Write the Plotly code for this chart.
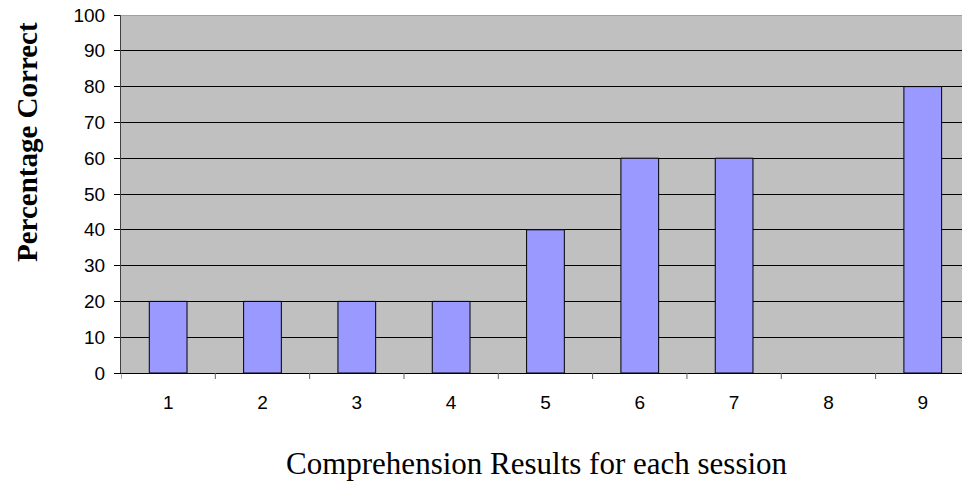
import plotly.graph_objects as go

# Comprehension score (% correct) for each session; session 8 has no result
sessions = ["1", "2", "3", "4", "5", "6", "7", "8", "9"]
percent_correct = [20, 20, 20, 20, 40, 60, 60, None, 80]
y_ticks = [0, 10, 20, 30, 40, 50, 60, 70, 80, 90, 100]

W, H = 962, 482
left, top, bottom = 121, 15, 109

fig = go.Figure()
fig.add_trace(go.Bar(
    x=list(range(len(sessions))),
    y=percent_correct,
    width=0.4,
    marker=dict(color="#9999FF", line=dict(color="#000000", width=1)),
    hoverinfo="x+y",
))

fig.update_layout(
    width=W, height=H,
    margin=dict(l=left, r=0, t=top, b=bottom),
    paper_bgcolor="white",
    plot_bgcolor="#C0C0C0",
    showlegend=False,
    font=dict(family="Arial", size=19, color="#000000"),
)

fig.update_xaxes(
    tickmode="array",
    tickvals=list(range(len(sessions))),
    ticktext=sessions,
    range=[-0.5, 8.416],
    showgrid=False,
    zeroline=False,
    showline=True, linecolor="#000000", linewidth=1,
    ticks="",
    tickfont=dict(family="Arial", size=19, color="#000000"),
    ticklabelstandoff=12,
)
fig.update_yaxes(
    range=[0, 100],
    tickmode="array",
    tickvals=y_ticks,
    showgrid=True, gridcolor="#000000", gridwidth=1,
    zeroline=False,
    showline=True, linecolor="#404040", linewidth=1,
    ticks="outside", ticklen=6, tickcolor="#000000",
    tickfont=dict(family="Arial", size=19, color="#000000"),
    ticklabelstandoff=5,
)

fig.add_annotation(
    text="<b>Percentage Correct</b>", xref="paper", yref="paper",
    x=-(left - 27) / (W - left), y=1 - (142 - top) / (H - top - bottom),
    textangle=-90, showarrow=False, xanchor="center", yanchor="middle",
    font=dict(family="Liberation Serif, Times New Roman", size=29, color="#000000"),
)
fig.add_annotation(
    text="Comprehension Results for each session", xref="paper", yref="paper",
    x=(537 - left) / (W - left), y=-(463 - (H - bottom)) / (H - top - bottom),
    showarrow=False, xanchor="center", yanchor="middle",
    font=dict(family="Liberation Serif, Times New Roman", size=31, color="#000000"),
)

# Category separator ticks below the x axis
for b in [i + 0.5 for i in range(-1, len(sessions))]:
    fig.add_shape(type="line", xref="x", yref="paper", x0=b, x1=b, y0=0, y1=-6 / (H - top - bottom),
                  line=dict(color="#606060", width=1), layer="above")

# Grey frame along the top of the plot area
fig.add_shape(type="line", xref="paper", yref="y", x0=0, x1=1, y0=100, y1=100,
              line=dict(color="#808080", width=1), layer="above")

fig.write_html("out.html")
